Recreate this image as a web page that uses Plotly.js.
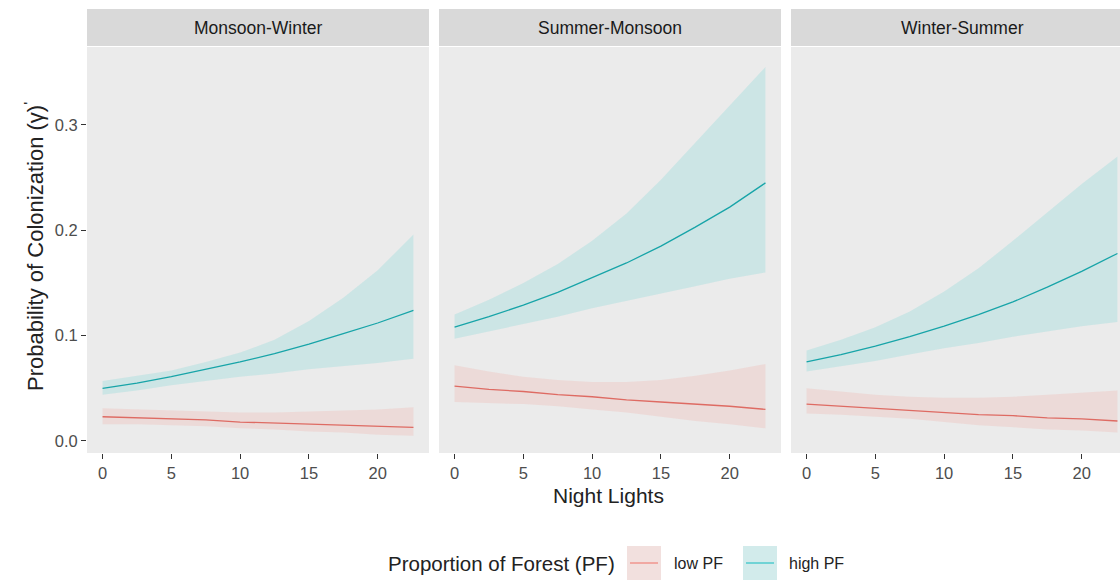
<!DOCTYPE html>
<html>
<head>
<meta charset="utf-8">
<script src="https://cdn.plot.ly/plotly-3.0.1.min.js"></script>
<style>html,body{margin:0;padding:0;background:#fff;}#chart{width:1120px;height:582px;}</style>
</head>
<body>
<div id="chart"></div>
<script>
// ---------------- data ----------------
const panels = ["Monsoon-Winter", "Summer-Monsoon", "Winter-Summer"];
const groups = ["low PF", "high PF"];
const nightLights = [0, 2.5, 5, 7.5, 10, 12.5, 15, 17.5, 20, 22.6];
const xTicks = [0, 5, 10, 15, 20];
const yTicks = [0, 0.1, 0.2, 0.3];
const yTickLabels = ["0.0", "0.1", "0.2", "0.3"];

// Monsoon-Winter
const mwLowFit   = [0.023, 0.022, 0.021, 0.020, 0.018, 0.017, 0.016, 0.015, 0.014, 0.013];
const mwLowUpper = [0.031, 0.030, 0.029, 0.028, 0.027, 0.027, 0.028, 0.029, 0.030, 0.032];
const mwLowLower = [0.016, 0.016, 0.015, 0.014, 0.012, 0.011, 0.009, 0.008, 0.006, 0.005];
const mwHighFit   = [0.050, 0.055, 0.061, 0.068, 0.075, 0.083, 0.092, 0.102, 0.112, 0.124];
const mwHighUpper = [0.057, 0.062, 0.067, 0.075, 0.084, 0.096, 0.114, 0.136, 0.162, 0.196];
const mwHighLower = [0.044, 0.048, 0.053, 0.057, 0.061, 0.064, 0.068, 0.071, 0.074, 0.078];

// Summer-Monsoon
const smLowFit   = [0.052, 0.049, 0.047, 0.044, 0.042, 0.039, 0.037, 0.035, 0.033, 0.030];
const smLowUpper = [0.072, 0.066, 0.061, 0.058, 0.056, 0.056, 0.058, 0.062, 0.067, 0.073];
const smLowLower = [0.037, 0.036, 0.035, 0.033, 0.030, 0.027, 0.023, 0.019, 0.016, 0.012];
const smHighFit   = [0.108, 0.118, 0.129, 0.141, 0.155, 0.169, 0.185, 0.203, 0.222, 0.245];
const smHighUpper = [0.120, 0.134, 0.150, 0.168, 0.190, 0.216, 0.248, 0.283, 0.318, 0.355];
const smHighLower = [0.097, 0.104, 0.111, 0.118, 0.126, 0.133, 0.140, 0.147, 0.154, 0.160];

// Winter-Summer
const wsLowFit   = [0.035, 0.033, 0.031, 0.029, 0.027, 0.025, 0.024, 0.022, 0.021, 0.019];
const wsLowUpper = [0.050, 0.047, 0.044, 0.042, 0.041, 0.041, 0.042, 0.044, 0.046, 0.048];
const wsLowLower = [0.026, 0.025, 0.023, 0.021, 0.018, 0.015, 0.013, 0.011, 0.010, 0.008];
const wsHighFit   = [0.075, 0.082, 0.090, 0.099, 0.109, 0.120, 0.132, 0.146, 0.161, 0.178];
const wsHighUpper = [0.086, 0.096, 0.108, 0.123, 0.142, 0.164, 0.190, 0.217, 0.244, 0.270];
const wsHighLower = [0.066, 0.071, 0.076, 0.082, 0.088, 0.093, 0.099, 0.104, 0.109, 0.113];

const panelData = [
  {low: [mwLowFit, mwLowUpper, mwLowLower], high: [mwHighFit, mwHighUpper, mwHighLower]},
  {low: [smLowFit, smLowUpper, smLowLower], high: [smHighFit, smHighUpper, smHighLower]},
  {low: [wsLowFit, wsLowUpper, wsLowLower], high: [wsHighFit, wsHighUpper, wsHighLower]}
];

// ---------------- style ----------------
const FONT = "Liberation Sans, Arial, Helvetica, sans-serif";
const lineColors = {"low PF": "#DE6B63", "high PF": "#17A4A8"};
const keyLineColors = {"low PF": "#F08A83", "high PF": "#3CC6CA"};
const fillColors = {"low PF": "rgba(248,118,109,0.14)", "high PF": "rgba(0,191,196,0.13)"};

const W = 1120, H = 582;
const L = 87, R = 0, T = 47, B = 129;
const plotW = W - L - R, plotH = H - T - B;
const px2x = p => (p - L) / plotW;
const py2y = p => (H - B - p) / plotH;

const panelLeft = [87, 439, 791];
const panelWidth = 342;
const domains = panelLeft.map(l => [px2x(l), Math.min(1, px2x(l + panelWidth))]);

const traces = [];
panelData.forEach((pd, i) => {
  const xa = i === 0 ? "x" : "x" + (i + 1);
  const ya = i === 0 ? "y" : "y" + (i + 1);
  groups.forEach(g => {
    const arr = g === "low PF" ? pd.low : pd.high;
    const fit = arr[0], up = arr[1], lo = arr[2];
    traces.push({
      type: "scatter", mode: "lines", xaxis: xa, yaxis: ya,
      x: nightLights.concat(nightLights.slice().reverse()),
      y: up.concat(lo.slice().reverse()),
      fill: "toself", fillcolor: fillColors[g],
      line: {width: 0}, hoverinfo: "skip", showlegend: false
    });
    traces.push({
      type: "scatter", mode: "lines", xaxis: xa, yaxis: ya,
      x: nightLights, y: fit, name: g,
      line: {color: lineColors[g], width: 1.3}, showlegend: false
    });
  });
});

const layout = {
  width: W, height: H,
  margin: {l: L, r: R, t: T, b: B, pad: 0},
  paper_bgcolor: "#FFFFFF",
  plot_bgcolor: "#EBEBEB",
  showlegend: false,
  font: {family: FONT, color: "#222"},
  shapes: [],
  annotations: []
};

const xRangeFull = [-1.13, 23.73];
for (let i = 0; i < 3; i++) {
  const sfx = i === 0 ? "" : String(i + 1);
  const xr = i === 2 ? [-1.13, -1.13 + (1120 - 791) / panelWidth * (xRangeFull[1] - xRangeFull[0])] : xRangeFull;
  layout["xaxis" + sfx] = {
    domain: domains[i], range: xr, anchor: "y" + sfx,
    tickvals: xTicks, ticks: "outside", ticklen: 5, tickwidth: 1, tickcolor: "#333",
    showgrid: false, zeroline: false, showline: false,
    tickfont: {family: FONT, size: 16.5, color: "#4D4D4D"}, fixedrange: true
  };
  layout["yaxis" + sfx] = {
    domain: [0, 1], range: [-0.0114, 0.374], anchor: "x" + sfx,
    tickvals: yTicks, ticktext: yTickLabels,
    ticks: i === 0 ? "outside" : "", ticklen: 5, tickwidth: 1, tickcolor: "#333",
    showticklabels: i === 0,
    showgrid: false, zeroline: false, showline: false,
    tickfont: {family: FONT, size: 16.5, color: "#4D4D4D"}, fixedrange: true
  };
  // strip
  layout.shapes.push({
    type: "rect", xref: "paper", yref: "paper",
    x0: domains[i][0], x1: domains[i][1], y0: py2y(46), y1: py2y(9),
    fillcolor: "#D9D9D9", line: {width: 0}, layer: "below"
  });
  layout.annotations.push({
    xref: "paper", yref: "paper",
    x: px2x(panelLeft[i] + panelWidth / 2), y: py2y(27.5),
    text: panels[i], showarrow: false, xanchor: "center", yanchor: "middle",
    font: {family: FONT, size: 17.5, color: "#1A1A1A"}
  });
}

// axis titles
layout.annotations.push({
  xref: "paper", yref: "paper", x: px2x(608), y: py2y(495),
  text: "Night Lights", showarrow: false, xanchor: "center", yanchor: "middle",
  font: {family: FONT, size: 21, color: "#222"}
});
layout.annotations.push({
  xref: "paper", yref: "paper", x: px2x(34), y: py2y(247),
  text: "Probability of Colonization (γ)<sup>'</sup>", showarrow: false, textangle: -90,
  xanchor: "center", yanchor: "middle",
  font: {family: FONT, size: 22, color: "#222"}
});

// legend (drawn manually, ggplot style)
const legendTitle = "Proportion of Forest (PF)";
layout.annotations.push({
  xref: "paper", yref: "paper", x: px2x(386), y: py2y(563),
  text: legendTitle, showarrow: false, xanchor: "left", yanchor: "middle",
  font: {family: FONT, size: 20.5, color: "#222"}
});
const keyLeft = [627, 743], labelLeft = [672, 787];
groups.forEach((g, k) => {
  layout.shapes.push({
    type: "rect", xref: "paper", yref: "paper",
    x0: px2x(keyLeft[k]), x1: px2x(keyLeft[k] + 34), y0: py2y(580), y1: py2y(546),
    fillcolor: "#F2F2F2", line: {width: 0}
  });
  layout.shapes.push({
    type: "rect", xref: "paper", yref: "paper",
    x0: px2x(keyLeft[k]), x1: px2x(keyLeft[k] + 34), y0: py2y(580), y1: py2y(546),
    fillcolor: fillColors[g], line: {width: 0}
  });
  layout.shapes.push({
    type: "line", xref: "paper", yref: "paper",
    x0: px2x(keyLeft[k] + 3), x1: px2x(keyLeft[k] + 31), y0: py2y(563), y1: py2y(563),
    line: {color: keyLineColors[g], width: 1.3}
  });
  layout.annotations.push({
    xref: "paper", yref: "paper", x: px2x(labelLeft[k]), y: py2y(563),
    text: g, showarrow: false, xanchor: "left", yanchor: "middle",
    font: {family: FONT, size: 16, color: "#222"}
  });
});

Plotly.newPlot("chart", traces, layout, {displayModeBar: false, staticPlot: true});
</script>
</body>
</html>
